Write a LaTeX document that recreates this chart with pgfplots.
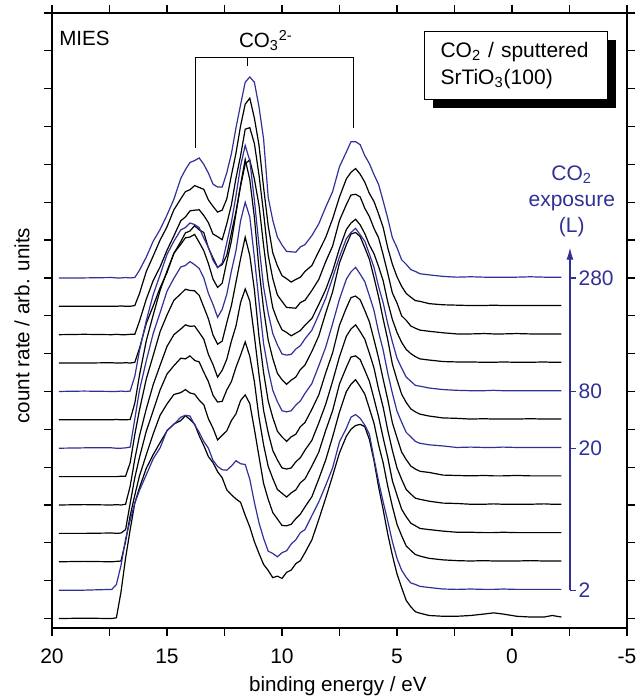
\documentclass[border=0pt]{standalone}
\usepackage{fontspec}
\setmainfont{Liberation Sans}
\usepackage{pgfplots}
\usepackage{pgfplotstable}
\pgfplotsset{compat=1.18}
\usetikzlibrary{arrows.meta,shadows}
\definecolor{expblue}{RGB}{48,48,150}

% MIES spectra, columns r0..r12 = intensity above each curve's own baseline
% (curve k is drawn shifted up by 0.75*k)
\pgfplotstableread{
E     r0   r1   r2   r3   r4   r5   r6   r7   r8   r9   r10  r11  r12
19.7  0    0    0    0    0    0    0    0    0    0    0    0    0
18.6  0.01 0    0.01 0    0.01 0    0.01 0    0.01 0    0.01 0    0
17.4  0    0.02 0    0.01 0    0    0.01 0    0    0.01 0    0    0.01
17.2  0.02 0.15 0.01 0    0.01 0    0    0.01 0    0    0.01 0    0
17.0  0.70 0.65 0.02 0.01 0    0.01 0    0    0.01 0    0    0.01 0
16.8  1.60 1.35 0.54 0.10 0.02 0.01 0.01 0    0    0.01 0    0    0.01
16.6  2.35 1.85 1.22 0.80 0.50 0.37 0.03 0.01 0.01 0    0.01 0    0
16.4  3.05 2.30 1.76 1.47 1.21 1.11 0.77 0.44 0.40 0.02 0.01 0.02 0.01
16.2  3.45 2.63 2.26 2.00 1.82 1.75 1.52 1.17 1.07 0.38 0.35 0.33 0.20
15.9  3.97 3.05 2.83 2.70 2.54 2.58 2.31 2.09 1.87 1.05 0.94 0.92 0.55
15.6  4.33 3.47 3.38 3.24 3.18 3.20 3.03 2.77 2.56 1.51 1.43 1.33 0.97
15.3  4.65 3.76 3.87 3.79 3.69 3.83 3.58 3.42 3.08 1.99 1.79 1.75 1.28
15.0  4.96 4.22 4.17 4.21 4.19 4.27 4.15 3.93 3.62 2.39 2.23 2.10 1.66
14.7  5.14 4.38 4.42 4.43 4.50 4.66 4.49 4.40 3.97 2.90 2.61 2.55 2.08
14.4  5.23 4.57 4.47 4.63 4.65 4.83 4.79 4.64 4.27 3.21 3.01 2.84 2.63
14.2  5.36 4.62 4.55 4.61 4.76 4.95 4.83 4.81 4.33 3.44 3.11 3.03 2.86
14.0  5.26 4.60 4.46 4.69 4.72 4.92 4.93 4.83 4.45 3.49 3.27 3.08 3.05
13.8  5.14 4.37 4.43 4.57 4.73 4.91 4.85 4.90 4.41 3.63 3.29 3.19 3.10
13.6  4.83 4.17 4.27 4.53 4.56 4.79 4.75 4.69 4.33 3.52 3.30 3.14 3.17
13.4  4.57 3.93 4.15 4.26 4.38 4.48 4.50 4.47 4.05 3.45 3.15 3.09 3.00
13.2  4.28 3.75 3.78 4.01 3.98 4.17 4.09 4.13 3.81 3.04 2.96 2.81 2.77
13.0  4.12 3.43 3.53 3.65 3.71 3.74 3.80 3.72 3.47 2.78 2.66 2.64 2.48
12.8  3.88 3.27 3.22 3.47 3.38 3.50 3.46 3.50 3.27 2.53 2.59 2.49 2.40
12.6  3.72 3.18 3.34 3.49 3.56 3.58 3.67 3.61 3.39 2.60 2.51 2.54 2.40
12.4  3.40 3.17 3.46 3.79 3.85 4.07 4.07 4.18 3.93 2.85 2.93 2.84 2.78
12.2  3.27 3.28 3.73 4.01 4.33 4.52 4.68 4.72 4.47 3.44 3.43 3.46 3.28
12.0  3.16 3.42 3.91 4.39 4.73 5.14 5.22 5.46 5.17 4.00 4.14 4.05 3.97
11.8  3.07 3.34 4.26 4.71 5.35 5.76 6.01 6.21 5.96 4.68 4.73 4.77 4.58
11.6  2.73 3.32 4.41 5.06 5.71 6.33 6.50 6.88 6.50 5.26 5.43 5.34 5.17
11.4  2.42 2.93 4.18 4.68 5.39 5.84 6.11 6.35 6.10 5.37 5.47 5.50 5.31
11.2  2.03 2.32 3.50 4.01 4.46 4.94 5.04 5.35 5.05 4.86 5.05 4.97 5.17
11.0  1.72 1.78 2.78 3.06 3.45 3.70 3.87 3.99 3.86 4.17 4.22 4.26 4.52
10.8  1.43 1.37 2.07 2.34 2.50 2.75 2.76 2.93 2.76 3.11 3.21 3.14 3.67
10.6  1.27 1.03 1.65 1.77 1.91 2.00 2.08 2.11 2.07 2.14 2.10 2.13 2.13
10.4  1.08 0.97 1.30 1.45 1.44 1.56 1.53 1.62 1.53 1.46 1.48 1.41 1.52
10.2  1.12 0.88 1.13 1.16 1.19 1.20 1.23 1.23 1.23 1.13 1.05 1.07 1.08
10.0  1.06 0.99 0.96 1.06 0.98 1.05 0.99 1.06 0.99 0.88 0.88 0.81 0.87
9.8   1.22 1.04 0.95 0.96 0.95 0.93 0.96 0.94 0.96 0.81 0.72 0.73 0.70
9.6   1.28 1.22 0.99 1.07 0.98 1.05 0.99 1.05 0.98 0.72 0.71 0.64 0.69
9.4   1.45 1.33 1.14 1.15 1.14 1.12 1.14 1.13 1.12 0.79 0.70 0.71 0.68
9.2   1.53 1.52 1.26 1.34 1.25 1.32 1.25 1.33 1.21 0.86 0.85 0.77 0.82
9.0   1.74 1.60 1.45 1.44 1.45 1.43 1.45 1.45 1.39 1.00 0.91 0.92 0.88
8.7   2.08 1.97 1.72 1.78 1.71 1.78 1.71 1.81 1.62 1.18 1.17 1.08 1.12
8.4   2.62 2.33 2.19 2.15 2.17 2.16 2.18 2.22 2.03 1.55 1.46 1.45 1.43
8.1   3.18 2.77 2.69 2.72 2.66 2.74 2.67 2.82 2.46 1.94 1.93 1.82 1.87
7.8   3.77 3.23 3.30 3.24 3.27 3.27 3.29 3.38 3.00 2.43 2.34 2.31 2.28
7.5   4.38 3.92 3.96 3.95 3.92 4.00 3.94 4.15 3.56 3.03 3.02 2.89 2.94
7.2   4.82 4.28 4.50 4.39 4.46 4.46 4.47 4.63 4.04 3.53 3.44 3.37 3.33
7.0   5.00 4.57 4.69 4.66 4.65 4.73 4.66 4.91 4.20 3.70 3.69 3.54 3.60
6.8   5.10 4.64 4.81 4.69 4.76 4.77 4.78 4.95 4.31 3.80 3.71 3.64 3.60
6.6   5.13 4.54 4.63 4.59 4.58 4.67 4.60 4.84 4.14 3.65 3.64 3.49 3.52
6.4   5.07 4.36 4.43 4.31 4.38 4.39 4.40 4.55 3.97 3.42 3.34 3.28 3.23
6.2   4.73 4.12 4.05 4.02 4.01 4.09 4.03 4.24 3.63 3.12 3.12 2.98 3.02
6.0   4.17 3.48 3.66 3.56 3.62 3.62 3.64 3.76 3.28 2.89 2.81 2.77 2.73
5.8   3.48 2.87 3.09 3.08 3.06 3.13 3.07 3.25 2.77 2.55 2.56 2.44 2.47
5.6   2.87 2.33 2.61 2.52 2.58 2.57 2.59 2.66 2.34 2.17 2.11 2.08 2.03
5.4   2.23 1.82 1.99 2.00 1.97 2.03 1.98 2.11 1.78 1.61 1.62 1.54 1.57
5.2   1.67 1.28 1.46 1.39 1.44 1.42 1.45 1.47 1.31 1.15 1.10 1.11 1.06
5.0   1.18 0.84 0.99 1.01 0.98 1.03 0.98 1.06 0.88 0.81 0.84 0.78 0.80
4.8   0.82 0.53 0.69 0.64 0.68 0.65 0.69 0.68 0.62 0.55 0.50 0.53 0.48
4.6   0.48 0.34 0.42 0.44 0.41 0.45 0.42 0.46 0.38 0.36 0.38 0.34 0.36
4.4   0.31 0.19 0.30 0.27 0.29 0.28 0.30 0.29 0.27 0.25 0.23 0.24 0.22
4.2   0.18 0.15 0.19 0.20 0.18 0.20 0.18 0.21 0.16 0.17 0.17 0.15 0.17
4.0   0.14 0.10 0.15 0.13 0.15 0.14 0.13 0.15 0.14 0.11 0.12 0.13 0.11
3.6   0.08 0.07 0.09 0.10 0.10 0.11 0.09 0.10 0.09 0.08 0.09 0.07 0.08
3.0   0.06 0.03 0.05 0.06 0.05 0.04 0.06 0.05 0.05 0.04 0.05 0.04 0.04
2.4   0.06 0.02 0.03 0.03 0.04 0.03 0.02 0.04 0.03 0.03 0.02 0.03 0.02
1.8   0.08 0.03 0.02 0.03 0.02 0.02 0.03 0.02 0.02 0.03 0.02 0.02 0.03
1.2   0.12 0.02 0.03 0.02 0.02 0.03 0.02 0.03 0.02 0.02 0.03 0.02 0.02
0.8   0.15 0.02 0.02 0.02 0.03 0.02 0.02 0.02 0.03 0.02 0.02 0.03 0.02
0.4   0.12 0.03 0.02 0.03 0.02 0.02 0.03 0.02 0.02 0.03 0.02 0.02 0.02
-0.2  0.06 0.02 0.02 0.02 0.02 0.03 0.02 0.02 0.02 0.02 0.03 0.02 0.02
-0.8  0.04 0.02 0.03 0.02 0.02 0.02 0.02 0.03 0.02 0.02 0.02 0.02 0.03
-1.4  0.04 0.02 0.02 0.02 0.03 0.02 0.02 0.02 0.02 0.03 0.02 0.02 0.02
-1.75 0.08 0.02 0.02 0.02 0.02 0.02 0.02 0.02 0.02 0.02 0.02 0.02 0.02
-2.15 0.04 0.02 0.02 0.02 0.02 0.02 0.02 0.02 0.02 0.02 0.02 0.02 0.02
}\spectra

\begin{document}
\begin{tikzpicture}[font=\fontsize{10.3}{12.4}\selectfont]
\useasboundingbox (0,0) rectangle (320pt,350pt);
\begin{axis}[
    at={(26pt,36pt)}, anchor=south west,
    scale only axis,
    width=287.5pt, height=307.5pt,
    x dir=reverse,
    xmin=-5, xmax=20, ymin=-0.25, ymax=16,
    xtick={-5,0,5,10,15,20},
    minor xtick={-2.5,2.5,7.5,12.5,17.5},
    ytick={0,1,...,16}, yticklabels={},
    tick align=outside,
    major tick length=4pt, minor tick length=4pt,
    every tick/.style={black, line width=0.6pt},
    axis line style={line width=0.6pt},
    /pgf/number format/assume math mode=true,
    ticklabel style={font=\fontsize{10.5}{12}\selectfont},
    xticklabel style={yshift=-3pt},
    clip=false,
]
\pgfplotsinvokeforeach{0,2,3,4,5,7,9,10,11}{
  \addplot[black, line width=0.6pt] table[x=E, y expr=\thisrow{r#1}+0.75*#1] {\spectra};
}
\pgfplotsinvokeforeach{1,6,8,12}{
  \addplot[expblue, line width=0.6pt] table[x=E, y expr=\thisrow{r#1}+0.75*#1] {\spectra};
}

% labels
\node[anchor=west, inner sep=0] at (axis cs:19.7,15.32) {MIES};
\node at (axis cs:10.7,15.27) {CO\textsubscript{3}\textsuperscript{2-}};
\draw[line width=0.5pt] (axis cs:13.78,12.44) -- (axis cs:13.78,14.82)
  -- (axis cs:6.87,14.82) -- (axis cs:6.87,12.97);
\draw[line width=0.5pt] (axis cs:11.48,14.82) -- (axis cs:11.48,14.59);

\node[draw, line width=0.6pt, fill=white, anchor=north west,
      general shadow={fill=black, shadow xshift=4pt, shadow yshift=-4.5pt},
      text width=75.5pt, inner xsep=8pt, minimum height=34pt, align=left,
      font=\fontsize{10.5}{13.5}\selectfont]
  at (axis cs:3.83,15.53) {CO\textsubscript{2} / sputtered\\SrTiO\textsubscript{3}(100)};

% exposure scale
\node[expblue, align=center, font=\fontsize{10.5}{13}\selectfont]
  at (axis cs:-2.6,11.02) {CO\textsubscript{2}\\exposure\\(L)};
\draw[expblue, line width=0.6pt, -{Latex[length=6pt,width=3.5pt]}]
  (axis cs:-2.52,0.75) -- (axis cs:-2.52,9.8);
\draw[expblue, line width=0.6pt] (axis cs:-2.52,0.75) -- (axis cs:-2.78,0.75);
\draw[expblue, line width=0.6pt] (axis cs:-2.52,4.5) -- (axis cs:-2.78,4.5);
\draw[expblue, line width=0.6pt] (axis cs:-2.52,6) -- (axis cs:-2.78,6);
\draw[expblue, line width=0.6pt] (axis cs:-2.52,9) -- (axis cs:-2.78,9);
\node[expblue, anchor=west, inner sep=0, font=\fontsize{10.5}{12}\selectfont]
  at (axis cs:-2.88,0.75) {2};
\node[expblue, anchor=west, inner sep=0, font=\fontsize{10.5}{12}\selectfont]
  at (axis cs:-2.88,4.5) {20};
\node[expblue, anchor=west, inner sep=0, font=\fontsize{10.5}{12}\selectfont]
  at (axis cs:-2.88,6) {80};
\node[expblue, anchor=west, inner sep=0, font=\fontsize{10.5}{12}\selectfont]
  at (axis cs:-2.88,9) {280};

\node[rotate=90] at (axis cs:21.3,7.74) {count rate / arb. units};
\node at (axis cs:7.57,-1.8) {binding energy / eV};
\end{axis}
\end{tikzpicture}
\end{document}
